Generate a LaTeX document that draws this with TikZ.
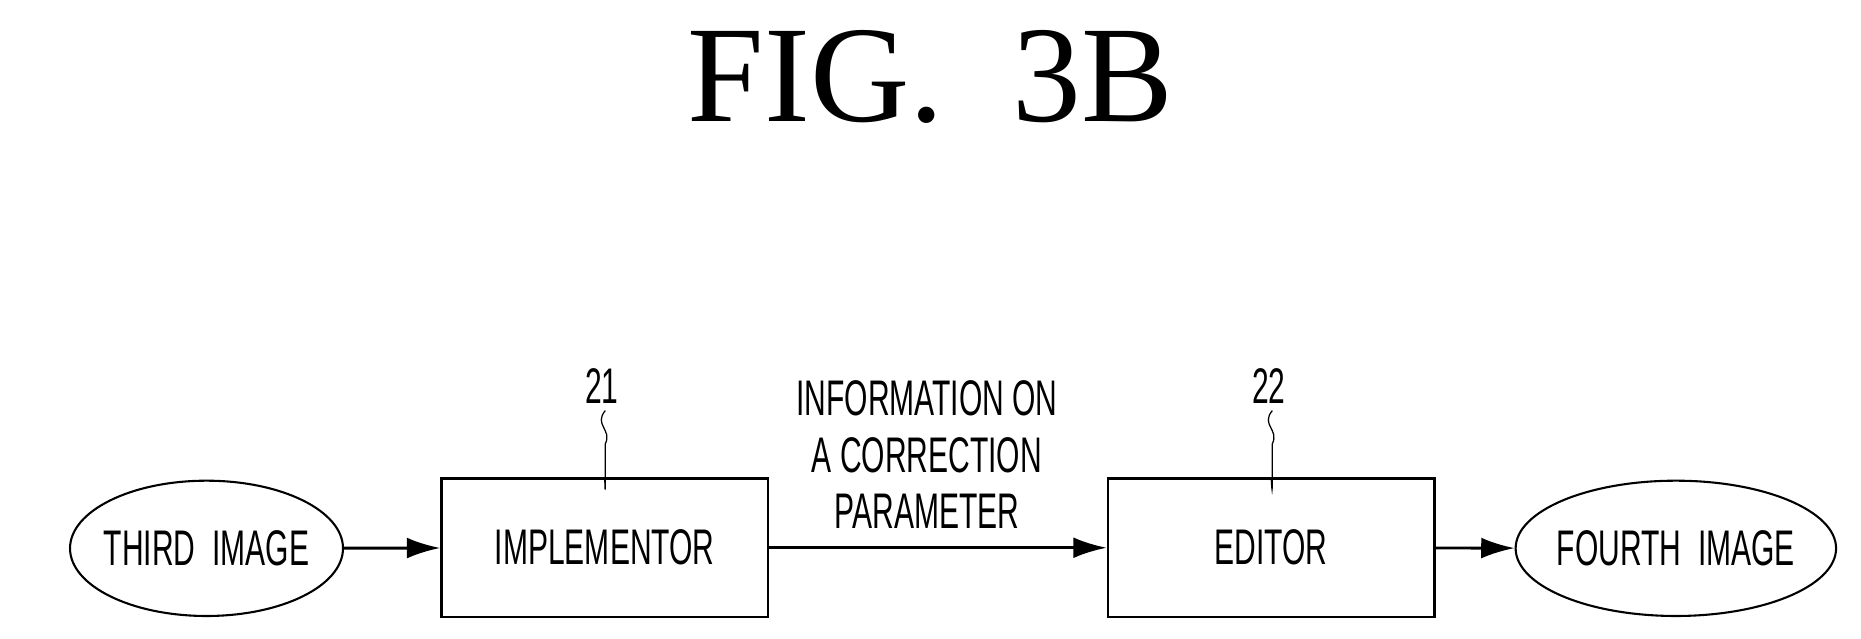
\documentclass[tikz,border=0pt]{standalone}
\usepackage{fontspec}
\setmainfont{Liberation Serif}
\newfontfamily\cond[FakeStretch=0.6]{Liberation Sans}
\usetikzlibrary{shapes.geometric,arrows.meta}
\begin{document}
\begin{tikzpicture}[x=0.02cm,y=-0.02cm,
  lbl/.style={font=\cond\fontsize{24}{27}\selectfont},
  blk/.style={draw,line width=1.2pt,minimum width=275*0.02cm,minimum height=117*0.02cm,lbl},
  ell/.style={draw,ellipse,line width=1pt,lbl,inner sep=0pt,inner xsep=-18pt},
  arr/.style={line width=1.4pt,-{Latex[length=16pt,width=10pt]}}]
\useasboundingbox (0,0) rectangle (1568,538);
\node (title) at (784,65) {\fontsize{66}{70}\selectfont FIG.\ \ 3B};
\node[ell,minimum width=230*0.02cm,minimum height=114*0.02cm] (third) at (174,462) {THIRD\ \ IMAGE};
\node[blk] (impl) at (509.5,461.5) {IMPLEMENTOR};
\node[blk] (edit) at (1071,461.5) {EDITOR};
\node[ell,minimum width=270*0.02cm,minimum height=114*0.02cm] (fourth) at (1412,462) {FOURTH\ \ IMAGE};
\draw[arr] (third) -- (impl);
\draw[arr] (impl) -- (edit);
\draw[arr] (edit) -- (fourth);
\node[lbl,align=center] (info) at (781,383) {INFORMATION ON\\A CORRECTION\\PARAMETER};
\node[lbl] (n21) at (507,325) {21};
\node[lbl] (n22) at (1069,325) {22};
\draw[line width=0.6pt] (n21.south) ++(3,0) .. controls +(-10,12) and +(6,-12) .. +(0,28) .. controls +(0,45) .. (impl.north);
\draw[line width=0.6pt] (n22.south) ++(3,0) .. controls +(-10,12) and +(6,-12) .. +(0,28) .. controls +(0,45) .. (edit.north);
\end{tikzpicture}
\end{document}
